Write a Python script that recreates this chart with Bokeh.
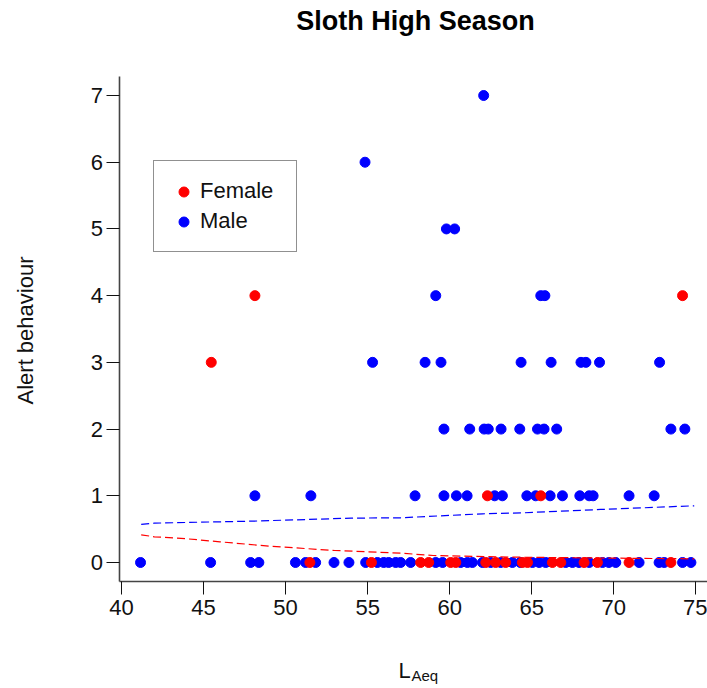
import math
from bokeh.plotting import figure
from bokeh.models import Range1d, Label, Legend, LegendItem, FixedTicker
from bokeh.embed import file_html
from bokeh.resources import INLINE

# ---- text ----
title_text = "Sloth High Season"
x_label_main = "L"
x_label_sub = "Aeq"
y_label = "Alert behaviour"
x_ticks = [40, 45, 50, 55, 60, 65, 70, 75]
y_ticks = [0, 1, 2, 3, 4, 5, 6, 7]

# ---- data: Female (red) ----
female_x = [51.48, 55.23, 58.23, 58.72, 60.06, 60.37, 62.2, 62.8, 63.41, 64.43, 64.74,
            66.26, 66.77, 68.19, 69.0, 70.93, 73.48,
            62.3, 65.55,
            45.47,
            48.13, 74.19]
female_y = [0, 0, 0, 0, 0, 0, 0, 0, 0, 0, 0,
            0, 0, 0, 0, 0, 0,
            1, 1,
            3,
            4, 4]

# ---- data: Male (blue) ----
male_x = [41.16, 45.43, 47.87, 48.37, 50.6, 51.22, 51.83, 52.95, 53.86, 54.88, 55.59,
          55.98, 56.28, 56.71, 57.01, 57.62, 59.15, 59.57, 60.67, 61.08, 61.38, 62.0,
          62.5, 63.11, 63.82, 64.3, 65.04, 65.45, 65.85, 67.07, 67.48, 67.88, 68.5,
          69.31, 69.7, 70.12, 71.54, 72.76, 73.07, 74.19, 74.7,
          48.13, 51.54, 57.89, 59.65, 60.41, 61.06, 62.74, 63.21, 64.7, 65.24, 66.12,
          66.87, 67.93, 68.5, 68.74, 70.93, 72.46,
          59.65, 61.22, 62.1, 62.35, 63.13, 64.27, 65.35, 65.75, 66.52, 73.48, 74.33,
          55.3, 58.5, 59.47, 64.35, 66.18, 68.0, 68.3, 69.13, 72.79,
          59.15, 65.55, 65.8,
          59.8, 60.3,
          54.84,
          62.07]
male_y = [0] * 41 + [1] * 17 + [2] * 11 + [3] * 9 + [4] * 3 + [5] * 2 + [6] + [7]

# ---- fitted curves (dashed) ----
male_fit_x = [41.2, 42.0, 48.0, 54.0, 57.0, 62.0, 64.5, 69.2, 74.9]
male_fit_y = [0.57, 0.59, 0.62, 0.665, 0.67, 0.73, 0.745, 0.795, 0.85]
female_fit_x = [41.2, 42.0, 44.0, 46.0, 49.0, 53.0, 57.0, 59.0, 64.0, 70.0, 74.9]
female_fit_y = [0.415, 0.385, 0.355, 0.31, 0.245, 0.18, 0.14, 0.105, 0.08, 0.065, 0.055]

# axis extents (R style: data range + 4 %)
x_axis_lo, x_axis_hi = 39.85, 75.71
y_axis_lo, y_axis_hi = -0.28, 7.28

FONT = "Liberation Sans"

# the frame covers the whole canvas so the outer texts are not clipped;
# the axes are pinned at the R plot-region edges
p = figure(width=707, height=688, output_backend="svg", toolbar_location=None,
           x_range=Range1d(32.626, 75.71), y_range=Range1d(-1.8887, 8.4240),
           min_border=0, min_border_left=0, min_border_right=0,
           min_border_top=0, min_border_bottom=0)
p.outline_line_color = None
p.grid.visible = False
p.background_fill_color = "white"
p.border_fill_color = "white"

rm = p.scatter(male_x, male_y, size=10, color="#0000FF")
rf = p.scatter(female_x, female_y, size=10, color="#FF0000")

p.line(male_fit_x, male_fit_y, line_dash="8 4", line_color="#0000FF", line_width=1.2)
p.line(female_fit_x, female_fit_y, line_dash="8 4", line_color="#FF0000", line_width=1.2)

for ax in (p.xaxis[0], p.yaxis[0]):
    ax.axis_line_color = "#444444"
    ax.axis_line_width = 1.6
    ax.major_tick_line_color = "#111111"
    ax.major_tick_line_width = 1
    ax.major_tick_in = 0
    ax.major_tick_out = 13
    ax.minor_tick_line_color = None
    ax.major_label_text_font = FONT
    ax.major_label_text_font_size = "22px"
    ax.major_label_text_color = "#111111"

xa = p.xaxis[0]
ya = p.yaxis[0]
xa.ticker = FixedTicker(ticks=x_ticks)
ya.ticker = FixedTicker(ticks=y_ticks)
xa.fixed_location = y_axis_lo
ya.fixed_location = x_axis_lo
xa.bounds = (x_axis_lo, x_axis_hi)
ya.bounds = (y_axis_lo, y_axis_hi)
xa.major_label_standoff = 6
ya.major_label_standoff = 3
ya.major_label_orientation = "horizontal"

legend = Legend(items=[LegendItem(label="Female", renderers=[rf]),
                       LegendItem(label="Male", renderers=[rm])],
                location=(153, 436), orientation="vertical",
                glyph_width=25, glyph_height=25, label_height=25, label_width=79,
                spacing=4, padding=17, label_standoff=4, margin=0,
                label_text_font=FONT, label_text_font_size="22px",
                label_text_color="#111111",
                border_line_color="#222222", border_line_width=1.5,
                background_fill_color="white", background_fill_alpha=1.0)
p.add_layout(legend)

p.add_layout(Label(x=415, y=667.5, x_units="screen", y_units="screen",
                   text=title_text, text_align="center", text_baseline="alphabetic",
                   text_font=FONT, text_font_size="27px", text_font_style="bold",
                   text_color="#000000"))
p.add_layout(Label(x=25, y=358, x_units="screen", y_units="screen", angle=math.pi / 2,
                   text=y_label, text_align="center", text_baseline="middle",
                   text_font=FONT, text_font_size="22px", text_color="#111111"))
p.add_layout(Label(x=398, y=18, x_units="screen", y_units="screen",
                   text=x_label_main, text_align="left", text_baseline="alphabetic",
                   text_font=FONT, text_font_size="22px", text_color="#111111"))
p.add_layout(Label(x=411, y=13, x_units="screen", y_units="screen",
                   text=x_label_sub, text_align="left", text_baseline="alphabetic",
                   text_font=FONT, text_font_size="15px", text_color="#111111"))

open("out.html", "w").write(file_html(p, INLINE))
